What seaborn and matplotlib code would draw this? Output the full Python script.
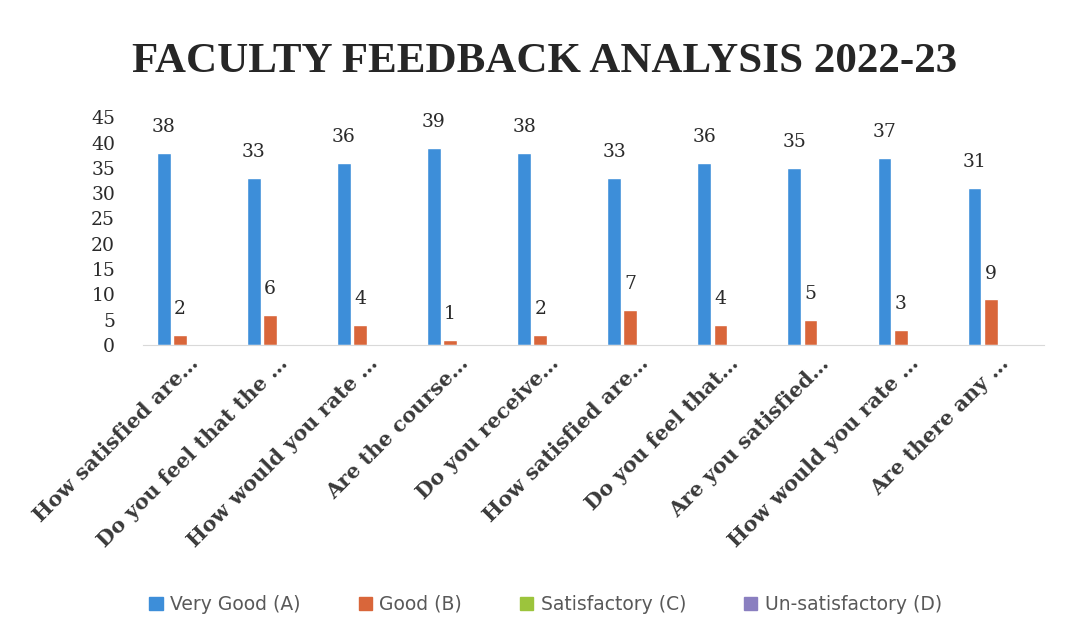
import numpy as np
import pandas as pd
import matplotlib
matplotlib.use("Agg")
import matplotlib.pyplot as plt
import matplotlib.transforms as mtransforms
import seaborn as sns

# question ids (labels repeat, so keep ids separate)
questions = ["Q1", "Q2", "Q3", "Q4", "Q5", "Q6", "Q7", "Q8", "Q9", "Q10"]
question_labels = ["How satisfied are\u2026", "Do you feel that the \u2026",
                   "How would you rate \u2026", "Are the course\u2026",
                   "Do you receive\u2026", "How satisfied are\u2026",
                   "Do you feel that\u2026", "Are you satisfied\u2026",
                   "How would you rate \u2026", "Are there any \u2026"]
series = ["Very Good (A)", "Good (B)", "Satisfactory (C)", "Un-satisfactory (D)"]
very_good = [38, 33, 36, 39, 38, 33, 36, 35, 37, 31]
good = [2, 6, 4, 1, 2, 7, 4, 5, 3, 9]
satisfactory = [0, 0.3, 0, 0, 0, 0, 0, 0, 0, 0]
unsatisfactory = [0, 0, 0, 0, 0, 0, 0, 0, 0, 0]
yticks = [0, 5, 10, 15, 20, 25, 30, 35, 40, 45]

colors = ["#3d8ed9", "#d9663a", "#9cc43c", "#8a7fc0"]

rows = []
for name, vals in zip(series, [very_good, good, satisfactory, unsatisfactory]):
    for q, v in zip(questions, vals):
        rows.append({"question": q, "rating": name, "count": v})
df = pd.DataFrame(rows)

sns.set_style("white")
fig = plt.figure(figsize=(10.66, 6.38), dpi=100)
ax = fig.add_axes([0.1341, 0.4592, 0.8452, 0.357])

sns.barplot(data=df, x="question", y="count", hue="rating", order=questions,
            hue_order=series, palette=colors, width=0.72, gap=0.15,
            saturation=1, ax=ax, legend=False)

serif = "DejaVu Serif"
for cont, vals in zip(ax.containers[:2], [very_good, good]):
    ax.bar_label(cont, labels=[str(v) for v in vals], padding=12,
                 fontsize=13.5, family=serif, color="#2a2a2a")

ax.set_ylim(0, 45)
ax.set_yticks(yticks)
ax.set_yticklabels([str(t) for t in yticks], family=serif, fontsize=13.5,
                   color="#2a2a2a")
ax.set_xticks(range(len(questions)))
ax.set_xticklabels(question_labels, rotation=45, ha="right",
                   rotation_mode="anchor", family=serif, fontsize=15,
                   fontweight="bold", color="#3a3a3a")
shift = mtransforms.ScaledTranslation(22 / 100, -10 / 100, fig.dpi_scale_trans)
for lbl in ax.get_xticklabels():
    lbl.set_transform(lbl.get_transform() + shift)
ax.tick_params(axis="both", length=0)
ax.tick_params(axis="x", pad=6)
ax.tick_params(axis="y", pad=20)
ax.set_xlabel("")
ax.set_ylabel("")
ax.set_xlim(-0.5, 9.5)
for s in ["top", "right", "left"]:
    ax.spines[s].set_visible(False)
ax.spines["bottom"].set_color("#d9d9d9")

fig.text(0.511, 0.903, "FACULTY FEEDBACK ANALYSIS 2022-23", ha="center",
         va="center", fontsize=31, fontweight="bold", family="Liberation Serif",
         color="#262626")

handles = [plt.Rectangle((0, 0), 1, 1, color=c) for c in colors]
fig.legend(handles, series, loc="center", bbox_to_anchor=(0.512, 0.053),
           ncol=4, frameon=False, fontsize=13.5, handlelength=0.7,
           handleheight=0.7, columnspacing=3.1, handletextpad=0.4,
           labelcolor="#595959")

fig.savefig("out.png", dpi=100)
